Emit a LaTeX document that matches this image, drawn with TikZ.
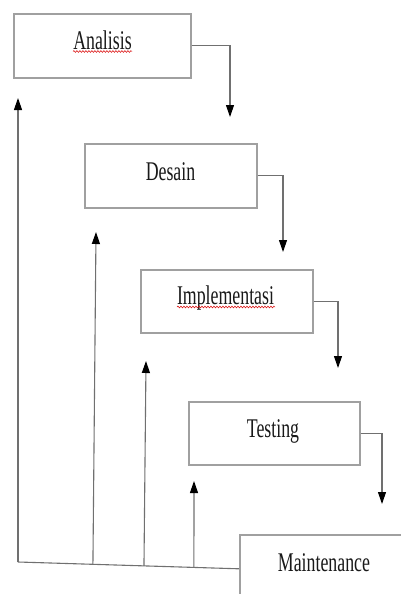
\documentclass[tikz,border=0pt]{standalone}
\usepackage{fontspec}
\usepackage{graphicx}
\setmainfont{Liberation Serif}
\usetikzlibrary{arrows.meta,calc,decorations.pathmorphing}

\definecolor{boxgray}{HTML}{A0A0A0}
\definecolor{linegray}{HTML}{707070}

\tikzset{
  stagebox/.style={draw=boxgray, line width=1.6pt, fill=white, inner sep=0pt,
                   anchor=north west},
  stagetext/.style={anchor=base, inner sep=0pt, text=black!90,
                    font=\fontsize{27}{30}\selectfont},
  conn/.style={draw=linegray, line width=1.1pt,
               -{Triangle[width=8pt,length=12pt,color=black]}},
  plain/.style={draw=linegray, line width=1.1pt},
  spell/.style={draw=red!85!black, line width=0.5pt,
                decorate, decoration={snake, amplitude=0.9pt, segment length=3pt}}
}
\newcommand{\cond}[1]{\scalebox{0.66}[1]{#1}}

\begin{document}
\begin{tikzpicture}[x=1pt, y=-1pt]
  \useasboundingbox (0,0) rectangle (401,594);
  \clip (0,0) rectangle (401,594);

  % stage boxes
  \node[stagebox, minimum width=177pt, minimum height=64pt] (ana) at (13,13) {};
  \node[stagebox, minimum width=172pt, minimum height=64pt] (des) at (84,143) {};
  \node[stagebox, minimum width=172pt, minimum height=63pt] (imp) at (140,269) {};
  \node[stagebox, minimum width=171pt, minimum height=63pt] (tst) at (188,401) {};
  \node[stagebox, minimum width=190pt, minimum height=68pt] (mnt) at (239,534) {};

  % stage labels
  \node[stagetext] (anaT) at (102.5,49) {\cond{Analisis}};
  \node[stagetext] (desT) at (170.5,180) {\cond{Desain}};
  \node[stagetext] (impT) at (225.5,304) {\cond{Implementasi}};
  \node[stagetext] (tstT) at (273,437) {\cond{Testing}};
  \node[stagetext] (mntT) at (324,571) {\cond{Maintenance}};

  % spell-check underlines
  \draw[spell] (73,51.5) -- (132,51.5);
  \draw[spell] (177,307) -- (275,307);

  % forward flow: each stage drops to the next
  \coordinate (d1) at (230,117);
  \coordinate (d2) at (283,252);
  \coordinate (d3) at (338,368);
  \coordinate (d4) at (382,504);
  \draw[conn] (ana.east) -| (d1);
  \draw[conn] (des.east) -| (d2);
  \draw[conn] (imp.east) -| (d3);
  \draw[conn] (tst.east) -| (d4);

  % feedback from maintenance to every stage
  \coordinate (f0) at (18,562);
  \draw[plain] (f0) -- (mnt.west);
  \coordinate (f1) at ($(f0)!0.339!(mnt.west)$);
  \coordinate (f2) at ($(f0)!0.570!(mnt.west)$);
  \coordinate (f3) at ($(f0)!0.796!(mnt.west)$);
  \coordinate (u0) at (18,98);
  \coordinate (u1) at (96,232);
  \coordinate (u2) at (146,361);
  \coordinate (u3) at (194,481);
  \draw[conn] (f0) -- (u0);
  \draw[conn] (f1) -- (u1);
  \draw[conn] (f2) -- (u2);
  \draw[conn] (f3) -- (u3);
\end{tikzpicture}
\end{document}
